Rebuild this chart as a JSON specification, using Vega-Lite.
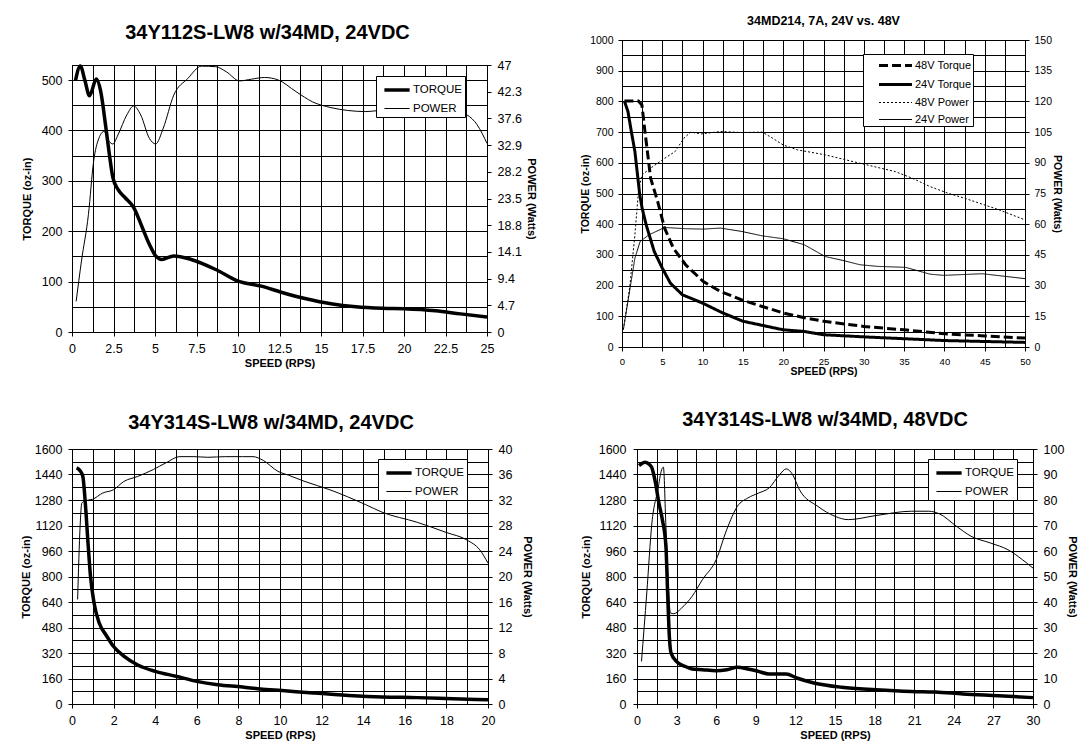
{
"$schema": "https://vega.github.io/schema/vega-lite/v6.json",
"background": "white",
"padding": {"left": 19, "top": -20, "right": 0, "bottom": 0},
"config": {
 "font": "Liberation Sans",
 "view": {"stroke": "black", "strokeWidth": 1},
 "axis": {"labelFont": "Liberation Sans", "titleFont": "Liberation Sans", "labelColor": "black", "titleColor": "black", "domainColor": "black", "tickColor": "black", "gridColor": "black", "gridOpacity": 1, "gridWidth": 1, "labelFlush": false, "labelOverlap": false, "titleFontWeight": "bold", "tickSize": 4, "labelPadding": 6, "tickCount": 100},
 "title": {"font": "Liberation Sans", "fontWeight": "bold", "color": "black", "anchor": "middle"},
 "legend": {"orient": "none", "title": null, "fillColor": "white", "strokeColor": "black", "padding": 3, "labelFont": "Liberation Sans", "labelFontSize": 11.5, "labelColor": "black", "symbolType": "M-1.4,0L1.4,0", "symbolFillColor": "transparent", "symbolStrokeColor": "black", "symbolSize": 324, "symbolOffset": 7, "labelOffset": 5, "rowPadding": 2}
},
"spacing": 31,
"resolve": {"scale": {"strokeWidth": "independent", "strokeDash": "independent"}, "legend": {"strokeWidth": "independent", "strokeDash": "independent"}},
"vconcat": [
 {"columns": 2, "align": "none", "spacing": {"row": 33, "column": 43},
  "resolve": {"scale": {"strokeWidth": "independent", "strokeDash": "independent"}, "legend": {"strokeWidth": "independent", "strokeDash": "independent"}},
  "concat": [
  {"width": 1, "height": 1, "view": {"stroke": null}, "data": {"values": []}, "mark": {"type": "point", "opacity": 0}},
  {"width": 1, "height": 1, "view": {"stroke": null}, "data": {"values": []}, "mark": {"type": "point", "opacity": 0}},
  {"width": 415, "height": 267,
   "title": {"text": ["", "34Y112S-LW8 w/34MD, 24VDC"], "lineHeight": 8, "fontSize": 20, "offset": 16, "dx": -12},
   "data": {"name": "p1"},
   "resolve": {"scale": {"y": "independent"}},
   "layer": [
    {"transform": [{"filter": "datum.series === 'TORQUE'"}],
     "mark": {"type": "line", "interpolate": "monotone", "color": "black"},
     "encoding": {
      "x": {"field": "speed", "type": "quantitative", "scale": {"domain": [0, 25], "nice": false},
            "axis": {"values": [0,1.25,2.5,3.75,5,6.25,7.5,8.75,10,11.25,12.5,13.75,15,16.25,17.5,18.75,20,21.25,22.5,23.75,25], "tickCount": 100, "format": ".1~f", "labelOverlap": false, "labelExpr": "datum.value % 2.5 === 0 ? datum.label : ''", "tickOpacity": {"condition": {"test": "datum.value % 2.5 === 0", "value": 1}, "value": 0}, "title": "SPEED (RPS)", "titleFontSize": 11, "labelFontSize": 12.5, "titlePadding": 3}},
      "y": {"field": "value", "type": "quantitative", "scale": {"domain": [0, 530], "nice": false},
            "axis": {"values": [0,50,100,150,200,250,300,350,400,450,500], "tickCount": 100, "format": "d", "labelOverlap": false, "labelExpr": "datum.value % 100 === 0 ? datum.label : ''", "tickOpacity": {"condition": {"test": "datum.value % 100 === 0", "value": 1}, "value": 0}, "title": "TORQUE (oz-in)", "titleFontSize": 11, "labelFontSize": 12.5, "titlePadding": 9}},
      "strokeWidth": {"field": "series", "type": "nominal", "scale": {"type": "ordinal", "domain": ["TORQUE", "POWER"], "range": [3.5, 1]}, "legend": {"legendX": 304, "legendY": 11}}
     }},
    {"transform": [{"filter": "datum.series === 'POWER'"}],
     "mark": {"type": "line", "interpolate": "monotone", "color": "black"},
     "encoding": {
      "x": {"field": "speed", "type": "quantitative"},
      "y": {"field": "value", "type": "quantitative", "scale": {"domain": [0, 47], "nice": false},
            "axis": {"orient": "right", "values": [0,4.7,9.4,14.1,18.8,23.5,28.2,32.9,37.6,42.3,47], "tickCount": 100, "format": ".3~g", "labelOverlap": false, "grid": false, "title": "POWER (Watts)", "titleFontSize": 11, "labelFontSize": 12.5, "titlePadding": 4}},
      "strokeWidth": {"field": "series", "type": "nominal", "scale": {"type": "ordinal", "domain": ["TORQUE", "POWER"], "range": [3.5, 1]}, "legend": {"legendX": 304, "legendY": 11}}
     }}
   ]},
  {"width": 403, "height": 307,
   "title": {"text": "34MD214, 7A, 24V vs. 48V", "fontSize": 12.5, "offset": 8},
   "data": {"name": "p2"},
   "resolve": {"scale": {"y": "independent"}},
   "layer": [
    {"transform": [{"filter": "indexof(datum.series, 'Torque') >= 0"}],
     "mark": {"type": "line", "color": "black"},
     "encoding": {
      "x": {"field": "speed", "type": "quantitative", "scale": {"domain": [0, 50], "nice": false},
            "axis": {"values": [0,2.5,5,7.5,10,12.5,15,17.5,20,22.5,25,27.5,30,32.5,35,37.5,40,42.5,45,47.5,50], "tickCount": 100, "format": ".1~f", "labelOverlap": false, "labelExpr": "datum.value % 5 === 0 ? datum.label : ''", "tickOpacity": {"condition": {"test": "datum.value % 5 === 0", "value": 1}, "value": 0}, "title": "SPEED (RPS)", "titleFontSize": 10.5, "labelFontSize": 9.5, "titlePadding": 1, "labelPadding": 5}},
      "y": {"field": "value", "type": "quantitative", "scale": {"domain": [0, 1000], "nice": false},
            "axis": {"values": [0,50,100,150,200,250,300,350,400,450,500,550,600,650,700,750,800,850,900,950,1000], "tickCount": 100, "format": "d", "labelOverlap": false, "labelExpr": "datum.value % 100 === 0 ? datum.label : ''", "tickOpacity": {"condition": {"test": "datum.value % 100 === 0", "value": 1}, "value": 0}, "title": "TORQUE (oz-in)", "titleFontSize": 10.5, "labelFontSize": 10.5, "labelPadding": 5, "titlePadding": -1}},
      "strokeWidth": {"field": "series", "type": "nominal", "scale": {"type": "ordinal", "domain": ["48V Torque", "24V Torque", "48V Power", "24V Power"], "range": [3, 3, 1, 1]}, "legend": {"legendX": 241, "legendY": 14, "labelFontSize": 11, "padding": 1, "symbolType": "M-1.83,0L1.83,0", "symbolOffset": 21, "labelOffset": 9, "rowPadding": 2}},
      "strokeDash": {"field": "series", "type": "nominal", "scale": {"domain": ["48V Torque", "24V Torque", "48V Power", "24V Power"], "range": [[9, 4], [1, 0], [2, 2], [1, 0]]}, "legend": {"legendX": 241, "legendY": 14, "labelFontSize": 11, "padding": 1, "symbolType": "M-1.83,0L1.83,0", "symbolOffset": 21, "labelOffset": 9, "rowPadding": 2}}
     }},
    {"transform": [{"filter": "indexof(datum.series, 'Power') >= 0"}],
     "mark": {"type": "line", "color": "black"},
     "encoding": {
      "x": {"field": "speed", "type": "quantitative"},
      "y": {"field": "value", "type": "quantitative", "scale": {"domain": [0, 150], "nice": false},
            "axis": {"orient": "right", "values": [0,15,30,45,60,75,90,105,120,135,150], "tickCount": 100, "format": "d", "labelOverlap": false, "grid": false, "title": "POWER (Watts)", "titleFontSize": 10.5, "labelFontSize": 10.5, "labelPadding": 5, "titlePadding": 0}},
      "strokeWidth": {"field": "series", "type": "nominal", "scale": {"type": "ordinal", "domain": ["48V Torque", "24V Torque", "48V Power", "24V Power"], "range": [3, 3, 1, 1]}, "legend": {"legendX": 241, "legendY": 14, "labelFontSize": 11, "padding": 1, "symbolType": "M-1.83,0L1.83,0", "symbolOffset": 21, "labelOffset": 9, "rowPadding": 2}},
      "strokeDash": {"field": "series", "type": "nominal", "scale": {"domain": ["48V Torque", "24V Torque", "48V Power", "24V Power"], "range": [[9, 4], [1, 0], [2, 2], [1, 0]]}, "legend": {"legendX": 241, "legendY": 14, "labelFontSize": 11, "padding": 1, "symbolType": "M-1.83,0L1.83,0", "symbolOffset": 21, "labelOffset": 9, "rowPadding": 2}}
     }}
   ]}
 ]},
 {"spacing": 45,
  "resolve": {"scale": {"strokeWidth": "independent", "strokeDash": "independent"}, "legend": {"strokeWidth": "independent", "strokeDash": "independent"}},
  "hconcat": [
  {"width": 416, "height": 255,
   "title": {"text": "34Y314S-LW8 w/34MD, 24VDC", "fontSize": 20, "offset": 10, "dx": -9},
   "data": {"name": "p3"},
   "resolve": {"scale": {"y": "independent"}},
   "layer": [
    {"transform": [{"filter": "datum.series === 'TORQUE'"}],
     "mark": {"type": "line", "interpolate": "monotone", "color": "black"},
     "encoding": {
      "x": {"field": "speed", "type": "quantitative", "scale": {"domain": [0, 20], "nice": false},
            "axis": {"values": [0,1,2,3,4,5,6,7,8,9,10,11,12,13,14,15,16,17,18,19,20], "tickCount": 100, "format": "d", "labelOverlap": false, "labelExpr": "datum.value % 2 === 0 ? datum.label : ''", "tickOpacity": {"condition": {"test": "datum.value % 2 === 0", "value": 1}, "value": 0}, "title": "SPEED (RPS)", "titleFontSize": 11, "labelFontSize": 12.5, "titlePadding": 3}},
      "y": {"field": "value", "type": "quantitative", "scale": {"domain": [0, 1600], "nice": false},
            "axis": {"values": [0,80,160,240,320,400,480,560,640,720,800,880,960,1040,1120,1200,1280,1360,1440,1520,1600], "tickCount": 100, "format": "d", "labelOverlap": false, "labelExpr": "datum.value % 160 === 0 ? datum.label : ''", "tickOpacity": {"condition": {"test": "datum.value % 160 === 0", "value": 1}, "value": 0}, "title": "TORQUE (oz-in)", "titleFontSize": 11, "labelFontSize": 12.5, "titlePadding": 3}},
      "strokeWidth": {"field": "series", "type": "nominal", "scale": {"type": "ordinal", "domain": ["TORQUE", "POWER"], "range": [3.5, 1]}, "legend": {"legendX": 306, "legendY": 10}}
     }},
    {"transform": [{"filter": "datum.series === 'POWER'"}],
     "mark": {"type": "line", "interpolate": "monotone", "color": "black"},
     "encoding": {
      "x": {"field": "speed", "type": "quantitative"},
      "y": {"field": "value", "type": "quantitative", "scale": {"domain": [0, 40], "nice": false},
            "axis": {"orient": "right", "values": [0,4,8,12,16,20,24,28,32,36,40], "tickCount": 100, "format": "d", "labelOverlap": false, "grid": false, "title": "POWER (Watts)", "titleFontSize": 11, "labelFontSize": 12.5, "titlePadding": 10}},
      "strokeWidth": {"field": "series", "type": "nominal", "scale": {"type": "ordinal", "domain": ["TORQUE", "POWER"], "range": [3.5, 1]}, "legend": {"legendX": 306, "legendY": 10}}
     }}
   ]},
  {"width": 396, "height": 255,
   "title": {"text": "34Y314S-LW8 w/34MD, 48VDC", "fontSize": 20, "offset": 13, "dx": -10},
   "data": {"name": "p4"},
   "resolve": {"scale": {"y": "independent"}},
   "layer": [
    {"transform": [{"filter": "datum.series === 'TORQUE'"}],
     "mark": {"type": "line", "interpolate": "monotone", "color": "black"},
     "encoding": {
      "x": {"field": "speed", "type": "quantitative", "scale": {"domain": [0, 30], "nice": false},
            "axis": {"values": [0,1.5,3,4.5,6,7.5,9,10.5,12,13.5,15,16.5,18,19.5,21,22.5,24,25.5,27,28.5,30], "tickCount": 100, "format": ".1~f", "labelOverlap": false, "labelExpr": "datum.value % 3 === 0 ? datum.label : ''", "tickOpacity": {"condition": {"test": "datum.value % 3 === 0", "value": 1}, "value": 0}, "title": "SPEED (RPS)", "titleFontSize": 11, "labelFontSize": 12.5, "titlePadding": 3}},
      "y": {"field": "value", "type": "quantitative", "scale": {"domain": [0, 1600], "nice": false},
            "axis": {"values": [0,80,160,240,320,400,480,560,640,720,800,880,960,1040,1120,1200,1280,1360,1440,1520,1600], "tickCount": 100, "format": "d", "labelOverlap": false, "labelExpr": "datum.value % 160 === 0 ? datum.label : ''", "tickOpacity": {"condition": {"test": "datum.value % 160 === 0", "value": 1}, "value": 0}, "title": "TORQUE (oz-in)", "titleFontSize": 11, "labelFontSize": 12.5, "labelPadding": 7, "titlePadding": 7}},
      "strokeWidth": {"field": "series", "type": "nominal", "scale": {"type": "ordinal", "domain": ["TORQUE", "POWER"], "range": [3.5, 1]}, "legend": {"legendX": 291, "legendY": 10}}
     }},
    {"transform": [{"filter": "datum.series === 'POWER'"}],
     "mark": {"type": "line", "interpolate": "monotone", "color": "black"},
     "encoding": {
      "x": {"field": "speed", "type": "quantitative"},
      "y": {"field": "value", "type": "quantitative", "scale": {"domain": [0, 100], "nice": false},
            "axis": {"orient": "right", "values": [0,10,20,30,40,50,60,70,80,90,100], "tickCount": 100, "format": "d", "labelOverlap": false, "grid": false, "title": "POWER (Watts)", "titleFontSize": 11, "labelFontSize": 12.5, "titlePadding": 3}},
      "strokeWidth": {"field": "series", "type": "nominal", "scale": {"type": "ordinal", "domain": ["TORQUE", "POWER"], "range": [3.5, 1]}, "legend": {"legendX": 291, "legendY": 10}}
     }}
   ]}
 ]}
],
"datasets": {
 "p1": [
  {"speed":0.21,"value":499,"series":"TORQUE"},{"speed":0.5,"value":528,"series":"TORQUE"},{"speed":0.78,"value":499,"series":"TORQUE"},{"speed":1.05,"value":469,"series":"TORQUE"},{"speed":1.47,"value":502,"series":"TORQUE"},{"speed":1.72,"value":479,"series":"TORQUE"},{"speed":2.04,"value":406,"series":"TORQUE"},{"speed":2.25,"value":353,"series":"TORQUE"},{"speed":2.46,"value":307,"series":"TORQUE"},{"speed":2.77,"value":283,"series":"TORQUE"},{"speed":3.19,"value":267,"series":"TORQUE"},{"speed":3.72,"value":247,"series":"TORQUE"},{"speed":4.24,"value":207,"series":"TORQUE"},{"speed":4.66,"value":174,"series":"TORQUE"},{"speed":5.04,"value":151,"series":"TORQUE"},{"speed":5.4,"value":144,"series":"TORQUE"},{"speed":6.13,"value":151,"series":"TORQUE"},{"speed":7.18,"value":144,"series":"TORQUE"},{"speed":8.66,"value":124,"series":"TORQUE"},{"speed":10.0,"value":101,"series":"TORQUE"},{"speed":11.4,"value":91,"series":"TORQUE"},{"speed":12.6,"value":79,"series":"TORQUE"},{"speed":14.1,"value":66,"series":"TORQUE"},{"speed":15.6,"value":56,"series":"TORQUE"},{"speed":17.1,"value":50,"series":"TORQUE"},{"speed":18.7,"value":47,"series":"TORQUE"},{"speed":20,"value":46,"series":"TORQUE"},{"speed":21.9,"value":42,"series":"TORQUE"},{"speed":23.4,"value":36,"series":"TORQUE"},{"speed":25,"value":30,"series":"TORQUE"},
  {"speed":0.25,"value":5.4,"series":"POWER"},{"speed":0.57,"value":12.5,"series":"POWER"},{"speed":0.99,"value":20.7,"series":"POWER"},{"speed":1.3,"value":30,"series":"POWER"},{"speed":1.62,"value":34.1,"series":"POWER"},{"speed":1.93,"value":35.3,"series":"POWER"},{"speed":2.25,"value":33.5,"series":"POWER"},{"speed":2.46,"value":33.1,"series":"POWER"},{"speed":2.77,"value":34.7,"series":"POWER"},{"speed":3.3,"value":38.2,"series":"POWER"},{"speed":3.72,"value":39.8,"series":"POWER"},{"speed":4.14,"value":38.2,"series":"POWER"},{"speed":4.66,"value":34.1,"series":"POWER"},{"speed":5.04,"value":33.1,"series":"POWER"},{"speed":5.5,"value":35.9,"series":"POWER"},{"speed":6.13,"value":41.7,"series":"POWER"},{"speed":6.97,"value":44.6,"series":"POWER"},{"speed":7.8,"value":46.8,"series":"POWER"},{"speed":8.66,"value":46.7,"series":"POWER"},{"speed":9.3,"value":45.8,"series":"POWER"},{"speed":10.1,"value":44.2,"series":"POWER"},{"speed":10.8,"value":44.5,"series":"POWER"},{"speed":11.6,"value":44.8,"series":"POWER"},{"speed":12.4,"value":44.4,"series":"POWER"},{"speed":13.5,"value":42.3,"series":"POWER"},{"speed":14.5,"value":40.5,"series":"POWER"},{"speed":15.6,"value":39.5,"series":"POWER"},{"speed":16.6,"value":39.0,"series":"POWER"},{"speed":17.7,"value":38.8,"series":"POWER"},{"speed":18.5,"value":39.0,"series":"POWER"},{"speed":19.5,"value":39.3,"series":"POWER"},{"speed":21,"value":39.5,"series":"POWER"},{"speed":22.5,"value":39.3,"series":"POWER"},{"speed":23.8,"value":38.2,"series":"POWER"},{"speed":24.4,"value":36.5,"series":"POWER"},{"speed":25,"value":33.2,"series":"POWER"}
 ],
 "p2": [
  {"speed":0.3,"value":801,"series":"48V Torque"},{"speed":2.04,"value":801,"series":"48V Torque"},{"speed":2.47,"value":788,"series":"48V Torque"},{"speed":2.9,"value":691,"series":"48V Torque"},{"speed":3.55,"value":550,"series":"48V Torque"},{"speed":4.42,"value":474,"series":"48V Torque"},{"speed":5.29,"value":387,"series":"48V Torque"},{"speed":6.37,"value":322,"series":"48V Torque"},{"speed":7.89,"value":268,"series":"48V Torque"},{"speed":10.05,"value":214,"series":"48V Torque"},{"speed":12.2,"value":181,"series":"48V Torque"},{"speed":14.8,"value":154,"series":"48V Torque"},{"speed":17.4,"value":132,"series":"48V Torque"},{"speed":20,"value":111,"series":"48V Torque"},{"speed":22.5,"value":96,"series":"48V Torque"},{"speed":25,"value":84,"series":"48V Torque"},{"speed":30,"value":67,"series":"48V Torque"},{"speed":35,"value":56,"series":"48V Torque"},{"speed":40,"value":43,"series":"48V Torque"},{"speed":45,"value":36,"series":"48V Torque"},{"speed":50,"value":29,"series":"48V Torque"},
  {"speed":0.3,"value":801,"series":"24V Torque"},{"speed":0.74,"value":767,"series":"24V Torque"},{"speed":1.17,"value":700,"series":"24V Torque"},{"speed":1.6,"value":637,"series":"24V Torque"},{"speed":2.2,"value":496,"series":"24V Torque"},{"speed":2.5,"value":452,"series":"24V Torque"},{"speed":3,"value":398,"series":"24V Torque"},{"speed":4,"value":311,"series":"24V Torque"},{"speed":5,"value":257,"series":"24V Torque"},{"speed":6,"value":208,"series":"24V Torque"},{"speed":7.5,"value":170,"series":"24V Torque"},{"speed":10,"value":143,"series":"24V Torque"},{"speed":12.5,"value":111,"series":"24V Torque"},{"speed":15,"value":84,"series":"24V Torque"},{"speed":17.5,"value":70,"series":"24V Torque"},{"speed":20,"value":56,"series":"24V Torque"},{"speed":22.5,"value":51,"series":"24V Torque"},{"speed":25,"value":40,"series":"24V Torque"},{"speed":30,"value":33,"series":"24V Torque"},{"speed":35,"value":27,"series":"24V Torque"},{"speed":40,"value":21,"series":"24V Torque"},{"speed":45,"value":18,"series":"24V Torque"},{"speed":50,"value":15,"series":"24V Torque"},
  {"speed":0.17,"value":8.5,"series":"48V Power"},{"speed":0.95,"value":28.8,"series":"48V Power"},{"speed":1.6,"value":54.8,"series":"48V Power"},{"speed":2.04,"value":76,"series":"48V Power"},{"speed":2.47,"value":84.1,"series":"48V Power"},{"speed":3.55,"value":87.4,"series":"48V Power"},{"speed":5.29,"value":92.2,"series":"48V Power"},{"speed":6.59,"value":95.5,"series":"48V Power"},{"speed":7.67,"value":102,"series":"48V Power"},{"speed":8.54,"value":105,"series":"48V Power"},{"speed":9.84,"value":104.1,"series":"48V Power"},{"speed":12.2,"value":105.3,"series":"48V Power"},{"speed":14.8,"value":104.8,"series":"48V Power"},{"speed":17.4,"value":105,"series":"48V Power"},{"speed":18.7,"value":102,"series":"48V Power"},{"speed":20,"value":98.7,"series":"48V Power"},{"speed":21.8,"value":96.3,"series":"48V Power"},{"speed":25.2,"value":93.9,"series":"48V Power"},{"speed":29.5,"value":89.8,"series":"48V Power"},{"speed":33.9,"value":85.7,"series":"48V Power"},{"speed":36,"value":82.5,"series":"48V Power"},{"speed":38.2,"value":78.4,"series":"48V Power"},{"speed":40.4,"value":75.2,"series":"48V Power"},{"speed":42.5,"value":72.7,"series":"48V Power"},{"speed":46.8,"value":67,"series":"48V Power"},{"speed":50,"value":62.1,"series":"48V Power"},
  {"speed":0.17,"value":8.5,"series":"24V Power"},{"speed":1.6,"value":43.4,"series":"24V Power"},{"speed":2.25,"value":51.6,"series":"24V Power"},{"speed":3.34,"value":54.8,"series":"24V Power"},{"speed":5.29,"value":58.4,"series":"24V Power"},{"speed":7.89,"value":57.8,"series":"24V Power"},{"speed":10.05,"value":57.6,"series":"24V Power"},{"speed":12.2,"value":58.1,"series":"24V Power"},{"speed":14.8,"value":56.5,"series":"24V Power"},{"speed":17.4,"value":54.3,"series":"24V Power"},{"speed":20,"value":52.9,"series":"24V Power"},{"speed":22.6,"value":50,"series":"24V Power"},{"speed":25.2,"value":44.2,"series":"24V Power"},{"speed":27.4,"value":42.3,"series":"24V Power"},{"speed":29.5,"value":40.2,"series":"24V Power"},{"speed":31.7,"value":39.4,"series":"24V Power"},{"speed":35.2,"value":38.9,"series":"24V Power"},{"speed":38.2,"value":35.6,"series":"24V Power"},{"speed":39.9,"value":35,"series":"24V Power"},{"speed":44.7,"value":35.8,"series":"24V Power"},{"speed":50,"value":33.4,"series":"24V Power"}
 ],
 "p3": [
  {"speed":0.22,"value":1481,"series":"TORQUE"},{"speed":0.39,"value":1464,"series":"TORQUE"},{"speed":0.52,"value":1429,"series":"TORQUE"},{"speed":0.64,"value":1261,"series":"TORQUE"},{"speed":0.77,"value":1010,"series":"TORQUE"},{"speed":0.89,"value":801,"series":"TORQUE"},{"speed":1.06,"value":634,"series":"TORQUE"},{"speed":1.31,"value":508,"series":"TORQUE"},{"speed":1.65,"value":430,"series":"TORQUE"},{"speed":1.99,"value":362,"series":"TORQUE"},{"speed":2.49,"value":300,"series":"TORQUE"},{"speed":3.16,"value":245,"series":"TORQUE"},{"speed":4.0,"value":205,"series":"TORQUE"},{"speed":5.0,"value":174,"series":"TORQUE"},{"speed":6.0,"value":142,"series":"TORQUE"},{"speed":7.0,"value":121,"series":"TORQUE"},{"speed":8.2,"value":107,"series":"TORQUE"},{"speed":9.05,"value":94,"series":"TORQUE"},{"speed":10.1,"value":84,"series":"TORQUE"},{"speed":11.6,"value":69,"series":"TORQUE"},{"speed":13.3,"value":54,"series":"TORQUE"},{"speed":14.9,"value":44,"series":"TORQUE"},{"speed":16.6,"value":40,"series":"TORQUE"},{"speed":18.3,"value":33,"series":"TORQUE"},{"speed":20,"value":27,"series":"TORQUE"},
  {"speed":0.27,"value":16.4,"series":"POWER"},{"speed":0.39,"value":27.9,"series":"POWER"},{"speed":0.47,"value":31.5,"series":"POWER"},{"speed":0.64,"value":31.9,"series":"POWER"},{"speed":0.98,"value":32.1,"series":"POWER"},{"speed":1.48,"value":33.1,"series":"POWER"},{"speed":1.99,"value":33.6,"series":"POWER"},{"speed":2.49,"value":34.9,"series":"POWER"},{"speed":3.16,"value":35.7,"series":"POWER"},{"speed":3.92,"value":36.8,"series":"POWER"},{"speed":4.5,"value":37.8,"series":"POWER"},{"speed":5.19,"value":38.8,"series":"POWER"},{"speed":5.86,"value":38.8,"series":"POWER"},{"speed":6.53,"value":38.7,"series":"POWER"},{"speed":7.37,"value":38.8,"series":"POWER"},{"speed":8.2,"value":38.8,"series":"POWER"},{"speed":8.7,"value":38.8,"series":"POWER"},{"speed":9.2,"value":38.2,"series":"POWER"},{"speed":9.9,"value":36.5,"series":"POWER"},{"speed":10.4,"value":35.9,"series":"POWER"},{"speed":11.2,"value":34.9,"series":"POWER"},{"speed":12.4,"value":33.6,"series":"POWER"},{"speed":14.1,"value":31.3,"series":"POWER"},{"speed":14.9,"value":30.1,"series":"POWER"},{"speed":16.6,"value":28.5,"series":"POWER"},{"speed":18,"value":26.9,"series":"POWER"},{"speed":19,"value":25.7,"series":"POWER"},{"speed":19.6,"value":24.2,"series":"POWER"},{"speed":20,"value":22.1,"series":"POWER"}
 ],
 "p4": [
  {"speed":0.16,"value":1496,"series":"TORQUE"},{"speed":0.34,"value":1508,"series":"TORQUE"},{"speed":0.61,"value":1517,"series":"TORQUE"},{"speed":0.95,"value":1502,"series":"TORQUE"},{"speed":1.13,"value":1481,"series":"TORQUE"},{"speed":1.4,"value":1387,"series":"TORQUE"},{"speed":1.66,"value":1261,"series":"TORQUE"},{"speed":1.92,"value":1157,"series":"TORQUE"},{"speed":2.19,"value":990,"series":"TORQUE"},{"speed":2.32,"value":697,"series":"TORQUE"},{"speed":2.45,"value":425,"series":"TORQUE"},{"speed":2.58,"value":320,"series":"TORQUE"},{"speed":2.98,"value":268,"series":"TORQUE"},{"speed":3.64,"value":236,"series":"TORQUE"},{"speed":4.17,"value":220,"series":"TORQUE"},{"speed":4.96,"value":215,"series":"TORQUE"},{"speed":6.0,"value":209,"series":"TORQUE"},{"speed":6.8,"value":215,"series":"TORQUE"},{"speed":7.6,"value":230,"series":"TORQUE"},{"speed":8.4,"value":220,"series":"TORQUE"},{"speed":9.2,"value":205,"series":"TORQUE"},{"speed":10.0,"value":188,"series":"TORQUE"},{"speed":11.3,"value":188,"series":"TORQUE"},{"speed":12.1,"value":163,"series":"TORQUE"},{"speed":13.4,"value":132,"series":"TORQUE"},{"speed":15.5,"value":105,"series":"TORQUE"},{"speed":18.1,"value":90,"series":"TORQUE"},{"speed":20.8,"value":79,"series":"TORQUE"},{"speed":22.6,"value":75,"series":"TORQUE"},{"speed":24.7,"value":63,"series":"TORQUE"},{"speed":27.4,"value":52,"series":"TORQUE"},{"speed":30,"value":40,"series":"TORQUE"},
  {"speed":0.34,"value":16.7,"series":"POWER"},{"speed":0.74,"value":43.5,"series":"POWER"},{"speed":1.13,"value":71,"series":"POWER"},{"speed":1.58,"value":84,"series":"POWER"},{"speed":1.87,"value":91.9,"series":"POWER"},{"speed":2.0,"value":92.9,"series":"POWER"},{"speed":2.19,"value":69.7,"series":"POWER"},{"speed":2.37,"value":47.5,"series":"POWER"},{"speed":2.53,"value":35.7,"series":"POWER"},{"speed":2.79,"value":35.4,"series":"POWER"},{"speed":3.37,"value":37.6,"series":"POWER"},{"speed":4.17,"value":42.2,"series":"POWER"},{"speed":4.96,"value":48.8,"series":"POWER"},{"speed":6.0,"value":56.6,"series":"POWER"},{"speed":6.8,"value":68.4,"series":"POWER"},{"speed":7.6,"value":77.5,"series":"POWER"},{"speed":8.4,"value":80.8,"series":"POWER"},{"speed":9.2,"value":82.7,"series":"POWER"},{"speed":10.0,"value":84.7,"series":"POWER"},{"speed":10.8,"value":89.9,"series":"POWER"},{"speed":11.3,"value":92.2,"series":"POWER"},{"speed":11.8,"value":89.9,"series":"POWER"},{"speed":12.3,"value":84.1,"series":"POWER"},{"speed":13.7,"value":77.5,"series":"POWER"},{"speed":15.0,"value":73.6,"series":"POWER"},{"speed":16.0,"value":72.3,"series":"POWER"},{"speed":18.1,"value":73.9,"series":"POWER"},{"speed":20.8,"value":75.6,"series":"POWER"},{"speed":22.1,"value":75.6,"series":"POWER"},{"speed":22.9,"value":74.6,"series":"POWER"},{"speed":24.2,"value":69.7,"series":"POWER"},{"speed":25.3,"value":65.8,"series":"POWER"},{"speed":26.8,"value":63.1,"series":"POWER"},{"speed":28.1,"value":60.5,"series":"POWER"},{"speed":29.2,"value":56.6,"series":"POWER"},{"speed":30,"value":53.3,"series":"POWER"}
 ]
}
}
